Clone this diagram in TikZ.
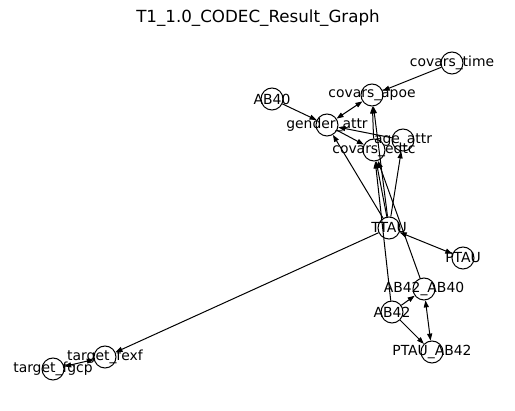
\documentclass[tikz,border=0pt]{standalone}
\usepackage{fontspec}
\setmainfont{DejaVu Sans}
\usetikzlibrary{arrows.meta}
\begin{document}
\begin{tikzpicture}[x=1pt,y=-1pt,
  vert/.style={circle,draw=black,fill=white,line width=1pt,minimum size=22pt,inner sep=0pt},
  lbl/.style={inner sep=0pt,font=\fontsize{13.9}{15}\selectfont},
  edge/.style={line width=1pt,-{Triangle[length=7pt,width=5pt]}},
  bedge/.style={line width=1pt,{Triangle[length=7pt,width=5pt]}-{Triangle[length=7pt,width=5pt]}}]
\useasboundingbox (0,0) rectangle (515,411);
\node[font=\fontsize{16.7}{19}\selectfont] (title) at (258,18) {T1\_1.0\_CODEC\_Result\_Graph};
% vertices
\node[vert] (ct) at (452,63) {};
\node[vert] (ca) at (372,95) {};
\node[vert] (ab40) at (272,99) {};
\node[vert] (ga) at (327,125) {};
\node[vert] (aa) at (403,140) {};
\node[vert] (ce) at (374,150) {};
\node[vert] (tt) at (389,228) {};
\node[vert] (pt) at (463,258) {};
\node[vert] (aba) at (424,289) {};
\node[vert] (ab42) at (392,312) {};
\node[vert] (pab) at (432,352) {};
\node[vert] (tf) at (105,357) {};
\node[vert] (tg) at (53,369) {};
% edges
\draw[edge] (ct) -- (ca);
\draw[edge] (ab40) -- (ga);
\draw[bedge] (ga) -- (ca);
\draw[edge] (ga) -- (ce);
\draw[edge] (aa) -- (ga);
\draw[edge] (ce) -- (ca);
\draw[edge] (tt) -- (ca);
\draw[edge] (tt) -- (ce);
\draw[edge] (tt) -- (ga);
\draw[edge] (tt) -- (aa);
\draw[bedge] (tt) -- (pt);
\draw[edge] (aba) -- (ce);
\draw[edge] (ab42) -- (ce);
\draw[edge] (ab42) -- (aba);
\draw[edge] (ab42) -- (pab);
\draw[bedge] (aba) -- (pab);
\draw[edge] (tt) -- (tf);
\draw[bedge] (tf) -- (tg);
% labels
\node[lbl] at (ct) {covars\_time};
\node[lbl] at (ca) {covars\_apoe};
\node[lbl] at (ab40) {AB40};
\node[lbl] at (ga) {gender\_attr};
\node[lbl] at (aa) {age\_attr};
\node[lbl] at (ce) {covars\_edtc};
\node[lbl] at (tt) {TTAU};
\node[lbl] at (pt) {PTAU};
\node[lbl] at (aba) {AB42\_AB40};
\node[lbl] at (ab42) {AB42};
\node[lbl] at (pab) {PTAU\_AB42};
\node[lbl] at (tf) {target\_fexf};
\node[lbl] at (tg) {target\_fgcp};
\end{tikzpicture}
\end{document}
